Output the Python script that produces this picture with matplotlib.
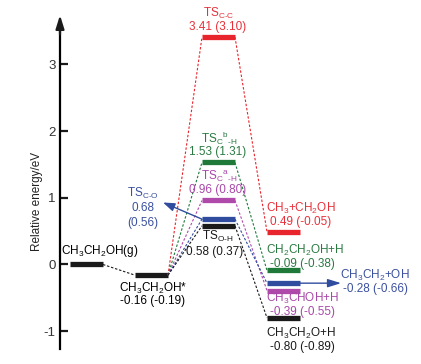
import matplotlib
matplotlib.use("Agg")
import matplotlib.pyplot as plt

plt.rcParams['font.family'] = ['Liberation Sans', 'DejaVu Sans']
plt.rcParams['mathtext.fontset'] = 'custom'
plt.rcParams['mathtext.rm'] = 'Liberation Sans'
plt.rcParams['mathtext.it'] = 'Liberation Sans'
plt.rcParams['mathtext.default'] = 'regular'
plt.rcParams['axes.unicode_minus'] = False

# energies (eV), value in brackets is the second set
gas_E = 0.0
ads_E, ads_alt = -0.16, -0.19

ts_names = ['TS$_{C\u2010C}$', 'TS$_C$$^b$$_{\u2010H}$', 'TS$_C$$^a$$_{\u2010H}$',
            'TS$_{C\u2010O}$', 'TS$_{O\u2010H}$']
ts_E = [3.41, 1.53, 0.96, 0.68, 0.58]
ts_alt = [3.10, 1.31, 0.80, 0.56, 0.37]

prod_names = ['CH$_3$+CH$_2$OH', 'CH$_2$CH$_2$OH+H', 'CH$_3$CHOH+H', 'CH$_3$CH$_2$+OH', 'CH$_3$CH$_2$O+H']
prod_E = [0.49, -0.09, -0.39, -0.28, -0.80]
prod_alt = [-0.05, -0.38, -0.55, -0.66, -0.89]

colors = ['#e8242c', '#1f7a3a', '#b04aaa', '#2f4c9e', '#1a1a1a']
txt_colors = ['#e8303a', '#2b7a42', '#a848a8', '#3a50a0', '#1a1a1a']

# x extents of the levels
x_gas = (70, 103)
x_ads = (135, 168)
x_ts = (202, 235)
x_prod = (267, 300)


def fmt(a, b):
    return f"{a:.2f} ({b:.2f})"


def main():
    fig = plt.figure(figsize=(4.21, 3.64), dpi=100)
    ax = fig.add_axes([0, 0, 1, 1])
    ax.set_xlim(0, 421)
    ax.set_ylim(-1.492, 3.966)
    for s in ['top', 'right', 'bottom']:
        ax.spines[s].set_visible(False)
    ax.spines['left'].set_position(('data', 60))
    ax.spines['left'].set_bounds(-1.27, 3.5)
    ax.spines['left'].set_linewidth(1.6)
    ax.annotate('', xy=(60, 3.74), xytext=(60, 3.45),
                arrowprops=dict(arrowstyle='-|>,head_width=0.25,head_length=0.8',
                                color='#1a1a1a', lw=1.6, shrinkA=0, shrinkB=0))
    ax.set_xticks([])
    ax.set_yticks([-1, 0, 1, 2, 3])
    ax.tick_params(axis='y', direction='in', length=6, width=1.6, labelsize=9.5,
                   pad=3, colors='#1a1a1a', labelcolor='#333333')
    ax.text(37, 0.95, 'Relative energy/eV', rotation=90, fontsize=8.5,
            ha='center', va='center', color='#222222')

    lw_bar = 3.8
    dash = dict(ls=(0, (2.2, 1.6)), lw=0.8)

    # starting levels
    ax.hlines(gas_E, *x_gas, color=colors[4], lw=lw_bar)
    ax.hlines(ads_E, *x_ads, color=colors[4], lw=lw_bar)
    ax.plot([x_gas[1], x_ads[0]], [gas_E, ads_E], color=colors[4], **dash)
    ax.text(100, gas_E + 0.08, 'CH$_3$CH$_2$OH(g)', fontsize=8.5, ha='center', va='bottom')
    ax.text(153, ads_E - 0.09, 'CH$_3$CH$_2$OH*', fontsize=8.5, ha='center', va='top')
    ax.text(153, ads_E - 0.30, fmt(ads_E, ads_alt), fontsize=8.5, ha='center', va='top')

    for i in range(5):
        c = colors[i]
        ax.plot([x_ads[1], x_ts[0]], [ads_E, ts_E[i]], color=c, **dash)
        ax.plot([x_ts[1], x_prod[0]], [ts_E[i], prod_E[i]], color=c, **dash)
        ax.hlines(ts_E[i], *x_ts, color=c, lw=lw_bar)
        ax.hlines(prod_E[i], *x_prod, color=c, lw=lw_bar)

    # TS labels
    tc = txt_colors
    for i in range(3):
        ax.text(218, ts_E[i] + 0.15, fmt(ts_E[i], ts_alt[i]), fontsize=8.5,
                ha='center', va='center', color=tc[i])
        ax.text(219, ts_E[i] + 0.36, ts_names[i], fontsize=8.5,
                ha='center', va='center', color=tc[i])
    ax.text(218, ts_E[4] - 0.16, ts_names[4], fontsize=8.5, ha='center', va='center', color=tc[4])
    ax.text(215, ts_E[4] - 0.39, fmt(ts_E[4], ts_alt[4]), fontsize=8.5,
            ha='center', va='center', color=tc[4])
    # TS C-O, with arrow
    ax.annotate('', xy=(163, ts_E[3] + 0.25), xytext=(x_ts[0], ts_E[3]),
                arrowprops=dict(arrowstyle='-|>,head_width=0.25,head_length=0.7',
                                color=colors[3], lw=1.0, shrinkA=0, shrinkB=0))
    ax.text(143, 1.07, ts_names[3], fontsize=8.5, ha='center', va='center', color=tc[3])
    ax.text(143, 0.84, f"{ts_E[3]:.2f}", fontsize=8.5, ha='center', va='center', color=tc[3])
    ax.text(143, 0.62, f"({ts_alt[3]:.2f})", fontsize=8.5, ha='center', va='center', color=tc[3])

    # product labels (name above / value below the name)
    name_off = [0.35, 0.30, -0.12, 0.10, -0.23]
    for i in [0, 1, 2, 4]:
        ax.text(266, prod_E[i] + name_off[i], prod_names[i], fontsize=8.5,
                ha='left', va='center', color=tc[i])
        ax.text(270, prod_E[i] + name_off[i] - 0.2, fmt(prod_E[i], prod_alt[i]),
                fontsize=8.5, ha='left', va='center', color=tc[i])
    ax.annotate('', xy=(341, prod_E[3]), xytext=(x_prod[1], prod_E[3]),
                arrowprops=dict(arrowstyle='-|>,head_width=0.25,head_length=0.8',
                                color=colors[3], lw=1.0, shrinkA=0, shrinkB=0))
    ax.text(340, prod_E[3] + 0.11, prod_names[3], fontsize=8.5, ha='left', va='center', color=tc[3])
    ax.text(343, prod_E[3] - 0.09, fmt(prod_E[3], prod_alt[3]), fontsize=8.5,
            ha='left', va='center', color=tc[3])

    fig.savefig('out.png', dpi=100)


if __name__ == "__main__":
    main()
